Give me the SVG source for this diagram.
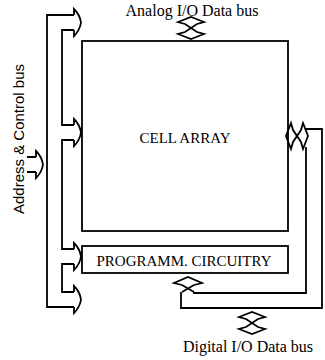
<svg xmlns="http://www.w3.org/2000/svg" xmlns:xlink="http://www.w3.org/1999/xlink" width="325" height="360" viewBox="0 0 325 360">
<style>
.ln{fill:none;stroke:#000;stroke-width:1.8;stroke-linejoin:miter}
.box{fill:#fff;stroke:#000;stroke-width:1.8}
.serif{font-family:"Liberation Serif","Times New Roman",serif;fill:#000}
.sans{font-family:"Liberation Sans",Arial,sans-serif;fill:#000}
</style>
<defs>
<path id="ba" class="ln" d="M0,0 L0,-6 Q6,0 7,7.5 Q6,15 0,21 L0,15"/>
<path id="dbl" class="ln" d="M-6,-4 L-13,-6 L0,-11 L13,-6 L6,-4 L-6,4 L-13,6 L0,11 L13,6 L6,4 Z"/>
</defs>
<rect width="325" height="360" fill="#fff"/>
<g id="cell-array">
<rect class="box" x="82" y="41" width="206" height="190"/>
<text class="serif" x="185" y="143" font-size="15" text-anchor="middle">CELL ARRAY</text>
</g>
<g id="programm-circuitry">
<rect class="box" x="82" y="246" width="206" height="27"/>
<text class="serif" x="184" y="266" font-size="15" text-anchor="middle">PROGRAMM. CIRCUITRY</text>
</g>
<g id="address-control-bus">
<text class="sans" transform="translate(24,139) rotate(-90)" font-size="15" text-anchor="middle">Address &amp; Control bus</text>
</g>
<g id="analog-io">
<text class="serif" x="192" y="15.5" font-size="16" text-anchor="middle">Analog I/O Data bus</text>
</g>
<g id="digital-io">
<text class="serif" x="248" y="352" font-size="16" text-anchor="middle">Digital I/O Data bus</text>
</g>
<g id="connectors">
<path class="ln" d="M74,15 L47,15 L47,307 L74,307"/>
<path class="ln" d="M74,30 L62,30 L62,125 L74,125 M74,140 L62,140 L62,249 L74,249 M74,264 L62,264 L62,292 L74,292"/>
<use xlink:href="#ba" x="74" y="15"/>
<use xlink:href="#ba" x="74" y="125"/>
<use xlink:href="#ba" x="74" y="249"/>
<use xlink:href="#ba" x="74" y="292"/>
<path class="ln" d="M27,157 L36,157 M27,172 L36,172"/>
<use xlink:href="#ba" x="36" y="157"/>
<use xlink:href="#dbl" transform="translate(191,28)"/>
<use xlink:href="#dbl" transform="translate(297,136) rotate(90)"/>
<use xlink:href="#dbl" transform="translate(252,323)"/>
<path class="ln" d="M194,285 L182,292 M182,285 L194,292 M182,285 L174,283 L188,277 L202,283 L194,285"/>
<path class="ln" d="M305,129 L322,129 L322,308 L181,308 L181,292"/>
<path class="ln" d="M306,147 L306,293 L194,293 L194,292"/>
</g>
</svg>
